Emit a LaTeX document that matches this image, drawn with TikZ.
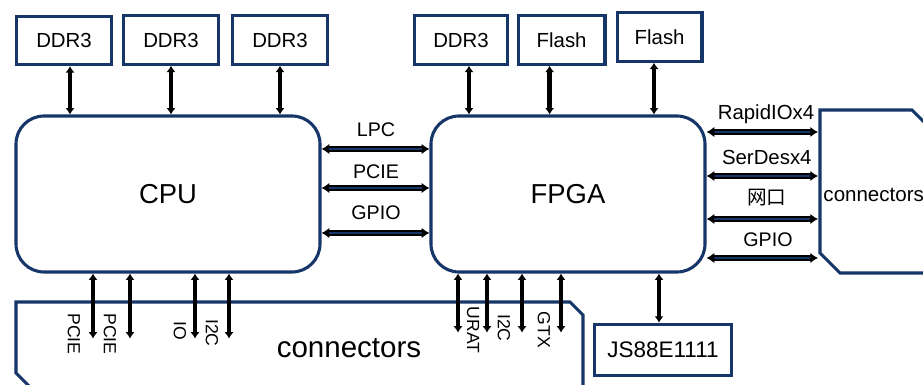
\documentclass[tikz,border=0pt]{standalone}
\usepackage{fontspec}
\setmainfont{Liberation Sans}
\newfontfamily\cjk{Noto Sans CJK SC}
\usetikzlibrary{positioning,arrows.meta}
\definecolor{boxblue}{RGB}{22,54,105}
\tikzset{
  memblk/.style={draw=boxblue, line width=2.2pt, minimum height=1.21cm, inner sep=0pt, font=\fontsize{14.5}{16}\selectfont},
  chip/.style={draw=boxblue, line width=2.2pt, rounded corners=0.7cm, minimum height=3.9cm, font=\fontsize{19.5}{22}\selectfont},
  lnk/.style={line width=3.2pt, {Latex[length=4.5pt,width=6.5pt]}-{Latex[length=4.5pt,width=6.5pt]}},
  bus/.style={line width=4pt, {Latex[length=5.5pt,width=7.5pt]}-{Latex[length=5.5pt,width=7.5pt]},
    postaction={draw=boxblue, line width=1.2pt, shorten <=5.5pt, shorten >=5.5pt, -}},
  buslbl/.style={inner sep=0pt, font=\fontsize{14}{16}\selectfont},
  sig/.style={inner sep=0pt, rotate=-90, font=\fontsize{12.5}{14}\selectfont},
  conn/.style={draw=boxblue, line width=2.2pt}
}

\begin{document}
\begin{tikzpicture}
\useasboundingbox (0,0) rectangle (23.075,9.625);
\clip (0,0) rectangle (23.075,9.625);

\draw(1.6,8.6125) node[memblk, minimum width=2.39cm] (ddrA) {DDR3};
\draw(4.275,8.625) node[memblk, minimum width=2.39cm] (ddrB) {DDR3};
\draw(7.0,8.625) node[memblk, minimum width=2.39cm] (ddrC) {DDR3};
\draw(11.525,8.625) node[memblk, minimum width=2.34cm] (ddrD) {DDR3};
\draw(14.04,8.625) node[memblk, minimum width=2.17cm] (flashA) {Flash};
\draw(16.49,8.7) node[memblk, minimum width=2.12cm] (flashB) {Flash};

\draw(4.2,4.775) node[chip, minimum width=7.6cm] (cpu) {CPU};
\draw(14.2,4.775) node[chip, minimum width=6.85cm] (fpga) {FPGA};
\draw(16.575,0.875) node[memblk, minimum width=3.44cm, minimum height=1.29cm, font=\fontsize{16}{18}\selectfont] (phy) {JS88E1111};

\draw[conn] (0.75,-0.05) -- (0.4,0.3) -- (0.4,2.075) -- (14.25,2.075) -- (14.575,1.75) -- (14.575,-0.2);
\draw(8.725,0.925) node[inner sep=0pt, font=\fontsize{21}{24}\selectfont] (connB) {connectors};
\draw[conn] (23.5,2.8) -- (21.0,2.8) -- (20.5,3.3) -- (20.5,6.875) -- (22.8,6.875) -- (23.5,6.175);
\draw(20.58,4.75) node[anchor=west, inner sep=0pt, font=\fontsize{14.6}{18}\selectfont] (connR) {connectors};

\draw[lnk] ([xshift=0.15cm]ddrA.south) -- ([xshift=0.15cm]ddrA.south |- cpu.north);
\draw[lnk] (ddrB.south) -- (ddrB.south |- cpu.north);
\draw[lnk] (ddrC.south) -- (ddrC.south |- cpu.north);
\draw[lnk] ([xshift=0.2cm]ddrD.south) -- ([xshift=0.2cm]ddrD.south |- fpga.north);
\draw[lnk] ([xshift=-0.3cm]flashA.south) -- ([xshift=-0.3cm]flashA.south |- fpga.north);
\draw[lnk] ([xshift=-0.14cm]flashB.south) -- ([xshift=-0.14cm]flashB.south |- fpga.north);

\draw[bus] ([yshift=1.125cm]cpu.east) -- ([yshift=1.125cm]fpga.west);
\draw[bus] ([yshift=0.15cm]cpu.east) -- ([yshift=0.15cm]fpga.west);
\draw[bus] ([yshift=-0.975cm]cpu.east) -- ([yshift=-0.975cm]fpga.west);
\draw(9.4,6.375) node[buslbl] (lpc) {LPC};
\draw(9.4,5.34) node[buslbl] (pcie) {PCIE};
\draw(9.4,4.3) node[buslbl] (gpioA) {GPIO};

\draw[bus] ([yshift=1.55cm]fpga.east) -- (20.45,6.325);
\draw[bus] ([yshift=0.45cm]fpga.east) -- (20.45,5.225);
\draw[bus] ([yshift=-0.625cm]fpga.east) -- (20.45,4.15);
\draw[bus] ([yshift=-1.6cm]fpga.east) -- (20.45,3.175);
\draw(19.15,6.775) node[buslbl, font=\fontsize{14.5}{16}\selectfont] (rio) {RapidIOx4};
\draw(19.17,5.7) node[buslbl, font=\fontsize{14.5}{16}\selectfont] (serdes) {SerDesx4};
\draw(19.17,4.675) node[buslbl, font=\fontsize{14}{16}\cjk] (eth) {网口};
\draw(19.2,3.625) node[buslbl] (gpioB) {GPIO};

\draw[lnk] ([xshift=-1.875cm]cpu.south) -- ++(0,-1.625);
\draw[lnk] ([xshift=-0.95cm]cpu.south) -- ++(0,-1.625);
\draw[lnk] ([xshift=0.675cm]cpu.south) -- ++(0,-1.625);
\draw[lnk] ([xshift=1.525cm]cpu.south) -- ++(0,-1.625);
\draw(1.85,1.275) node[sig] (pcieA) {PCIE};
\draw(2.75,1.275) node[sig] (pcieB) {PCIE};
\draw(4.5,1.35) node[sig] (io) {IO};
\draw(5.3,1.3) node[sig] (iicA) {I2C};

\draw[lnk] ([xshift=-2.75cm]fpga.south) -- ++(0,-1.475);
\draw[lnk] ([xshift=-2.025cm]fpga.south) -- ++(0,-1.475);
\draw[lnk] ([xshift=-1.15cm]fpga.south) -- ++(0,-1.475);
\draw[lnk] ([xshift=-0.175cm]fpga.south) -- ++(0,-1.475);
\draw(11.825,1.375) node[sig] (urat) {URAT};
\draw(12.6,1.425) node[sig] (iicB) {I2C};
\draw(13.6,1.375) node[sig] (gtx) {GTX};

\draw[lnk] ([xshift=2.275cm]fpga.south) -- ([xshift=2.275cm]fpga.south |- phy.north);
\end{tikzpicture}
\end{document}
